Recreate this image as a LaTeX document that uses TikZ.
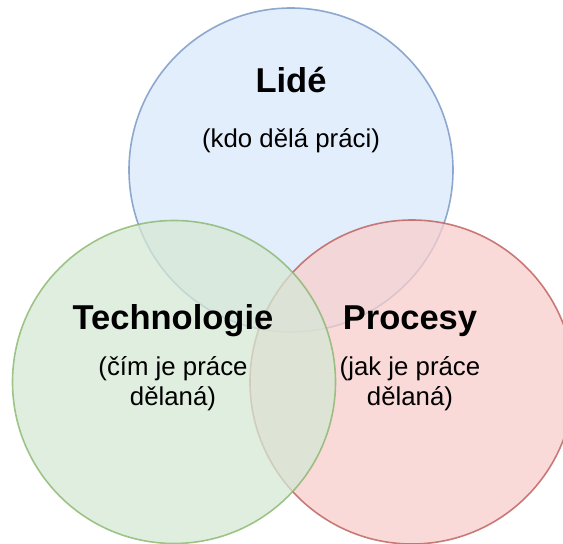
\documentclass[tikz,border=0pt]{standalone}
\usepackage{fontspec}
\setmainfont{Liberation Sans}
\definecolor{bfill}{HTML}{DAE8FC}\definecolor{bdraw}{HTML}{6C8EBF}
\definecolor{gfill}{HTML}{D5E8D4}\definecolor{gdraw}{HTML}{82B366}
\definecolor{rfill}{HTML}{F8CECC}\definecolor{rdraw}{HTML}{B85450}
\begin{document}
\begin{tikzpicture}[x=1pt,y=-1pt,
  setc/.style={line width=1.6pt,fill opacity=0.75,draw opacity=0.75},
  title/.style={font=\fontsize{34.5}{38}\selectfont\bfseries,anchor=base,inner sep=0pt},
  sub/.style={font=\fontsize{25.8}{30}\selectfont,anchor=base,inner sep=0pt,align=center}]
\useasboundingbox (0,0) rectangle (563,544);
\begin{scope}
\clip (0,0) rectangle (563,544);
\path[setc,fill=bfill,draw=bdraw] (291,170) circle[radius=162];
\path[setc,fill=rfill,draw=rdraw] (412,382) circle[radius=162];
\path[setc,fill=gfill,draw=gdraw] (174,382) circle[radius=161.5];
\end{scope}
\node[title] (lide) at (291,92) {Lidé};
\node[sub] (lides) at (291,147) {(kdo dělá práci)};
\node[title] (tech) at (173,329) {Technologie};
\node[sub] (techs1) at (173,375) {(čím je práce};
\node[sub] (techs2) at (173,405) {dělaná)};
\node[title] (proc) at (410,329) {Procesy};
\node[sub] (procs1) at (410,375) {(jak je práce};
\node[sub] (procs2) at (410,405) {dělaná)};
\end{tikzpicture}
\end{document}
